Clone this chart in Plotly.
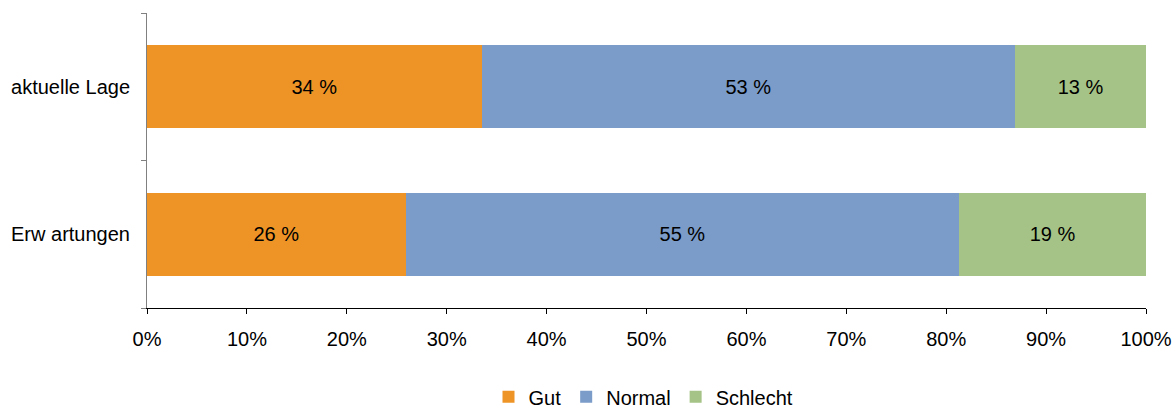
import plotly.graph_objects as go

categories = ["aktuelle Lage", "Erw artungen"]
series_names = ["Gut", "Normal", "Schlecht"]
gut = [33.5, 25.9]
normal = [53.4, 55.4]
schlecht = [13.1, 18.7]
gut_labels = ["34 %", "26 %"]
normal_labels = ["53 %", "55 %"]
schlecht_labels = ["13 %", "19 %"]
x_ticks = [0, 10, 20, 30, 40, 50, 60, 70, 80, 90, 100]
x_tick_labels = [f"{v}%" for v in x_ticks]

colors = ["#EE9426", "#7B9BC8", "#A5C386"]
font_family = "Liberation Sans, Arial, sans-serif"

fig = go.Figure()
for name, vals, labels, col in zip(series_names, [gut, normal, schlecht],
                                   [gut_labels, normal_labels, schlecht_labels], colors):
    fig.add_trace(go.Bar(
        y=categories, x=vals, name=name, orientation="h",
        marker=dict(color=col, line=dict(width=0)),
        text=labels, textposition="inside", insidetextanchor="middle",
        textfont=dict(color="#000000", size=20, family=font_family),
        hoverinfo="skip",
    ))

fig.update_layout(
    barmode="stack",
    bargap=0.44,
    width=1176, height=409,
    margin=dict(l=147, r=30, t=13, b=101, autoexpand=False),
    paper_bgcolor="white", plot_bgcolor="white",
    font=dict(family=font_family, size=20, color="#000000"),
    showlegend=True,
    legend=dict(orientation="h", x=0.497, xanchor="center",
                yref="container", y=0.03, yanchor="middle",
                font=dict(size=20, family=font_family), traceorder="normal",
                itemwidth=30, tracegroupgap=0),
    xaxis=dict(range=[0, 100], tickvals=x_ticks, ticktext=x_tick_labels,
               showgrid=False, zeroline=False, showline=True, linecolor="#000000",
               linewidth=1, ticks="outside", ticklen=5, tickcolor="#000000",
               ticklabelstandoff=8,
               automargin=False, tickfont=dict(size=20, family=font_family)),
    yaxis=dict(categoryorder="array", categoryarray=categories[::-1],
               showgrid=False, zeroline=False, showline=True, linecolor="#808080",
               linewidth=1, ticks="outside", ticklen=5, tickcolor="#808080",
               tickson="boundaries", ticklabelstandoff=12, automargin=False,
               tickfont=dict(size=20, family=font_family)),
)

fig.write_html("out.html")
